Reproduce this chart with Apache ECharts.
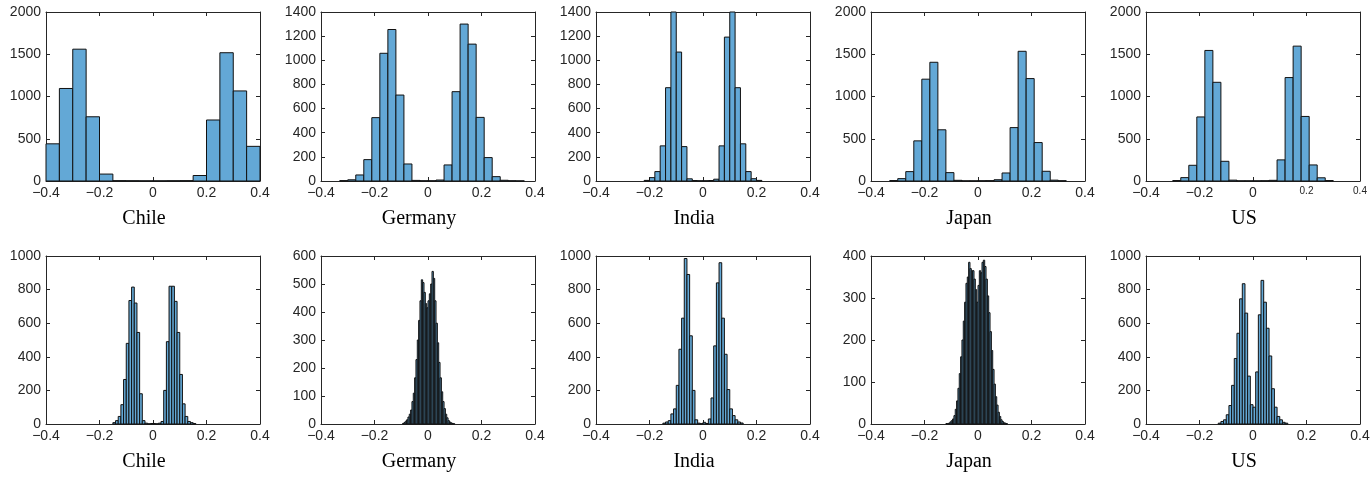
<!DOCTYPE html>
<html>
<head>
<meta charset="utf-8">
<script src="https://cdn.jsdelivr.net/npm/echarts/dist/echarts.min.js"></script>
<style>
  html, body { margin: 0; padding: 0; background: #fff; }
  #chart { width: 1372px; height: 477px; }
</style>
</head>
<body>
<div id="chart"></div>
<script>
// histogram counts (one value per bin)
var chileTopCounts = [440, 1095, 1560, 760, 82, 4, 3, 2, 2, 3, 4, 65, 722, 1518, 1066, 410];
var germanyTopCounts = [3, 10, 50, 177, 525, 1058, 1255, 712, 141, 5, 2, 2, 8, 133, 740, 1300, 1134, 527, 194, 36, 6, 2, 1];
var indiaTopCounts = [5, 28, 78, 291, 773, 1520, 1068, 285, 18, 4, 2, 2, 4, 15, 291, 1192, 1510, 773, 308, 78, 19, 5];
var japanTopCounts = [5, 28, 111, 475, 1205, 1405, 606, 99, 8, 2, 2, 3, 4, 15, 95, 632, 1535, 1212, 455, 115, 10, 3];
var usTopCounts = [5, 40, 186, 758, 1545, 1168, 233, 10, 2, 2, 2, 3, 8, 250, 1224, 1596, 764, 190, 38, 5];

var chileBottomCounts = [8, 20, 45, 115, 265, 480, 735, 815, 720, 545, 180, 20, 5, 1, 3, 3, 1, 5, 15, 200, 490, 820, 820, 730, 545, 295, 120, 45, 15, 8, 3];
var germanyBottomCounts = [2, 5, 10, 15, 25, 35, 50, 80, 110, 165, 230, 300, 370, 440, 515, 505, 470, 430, 415, 440, 465, 500, 545, 520, 440, 360, 290, 220, 165, 115, 80, 55, 35, 22, 12, 7, 4, 2, 1];
var indiaBottomCounts = [5, 12, 20, 60, 90, 230, 445, 630, 985, 890, 525, 200, 25, 5, 2, 10, 3, 30, 155, 465, 840, 960, 630, 415, 205, 90, 50, 25, 12, 6];
var japanBottomCounts = [1, 1, 2, 5, 8, 12, 20, 35, 55, 85, 120, 160, 200, 245, 290, 335, 350, 385, 370, 365, 365, 345, 320, 290, 330, 365, 360, 385, 390, 375, 345, 305, 265, 220, 175, 130, 95, 65, 45, 28, 18, 10, 6, 3, 2, 1];
var usBottomCounts = [5, 15, 25, 55, 110, 230, 390, 540, 745, 835, 660, 285, 115, 100, 310, 650, 855, 725, 570, 405, 210, 100, 45, 25, 10, 5];

// first bin edge and bin width of each histogram
var binStarts = [-0.4, -0.33, -0.22, -0.33, -0.30, -0.15, -0.095, -0.15, -0.12, -0.13];
var binWidths = [0.05, 0.03, 0.02, 0.03, 0.03, 0.01, 0.005, 0.01, 0.005, 0.01];

var countryNames = ['Chile', 'Germany', 'India', 'Japan', 'US', 'Chile', 'Germany', 'India', 'Japan', 'US'];
var yMaxes = [2000, 1400, 1400, 2000, 2000, 1000, 600, 1000, 400, 1000];
var ySteps = [500, 200, 200, 500, 500, 200, 100, 200, 100, 200];

var allCounts = [chileTopCounts, germanyTopCounts, indiaTopCounts, japanTopCounts, usTopCounts,
  chileBottomCounts, germanyBottomCounts, indiaBottomCounts, japanBottomCounts, usBottomCounts];

(function () {
  var myChart = echarts.init(document.getElementById('chart'));

  var colLeft = [46, 321, 596, 871, 1146];
  var rowTop = [12, 256];
  var rowHeight = [169, 168];
  var plotWidth = 214;
  var axisColor = '#262626';
  var sansFont = 'Liberation Sans, Arial, Helvetica, sans-serif';
  var serifFont = 'Liberation Serif, Times New Roman, serif';

  // matlab style tick text: real minus sign, no thousands separator
  function tickText(v) {
    if (Math.abs(v) < 1e-9) return '0';
    var s = String(Math.round(Math.abs(v) * 10) / 10);
    return v < 0 ? '\u2212' + s : s;
  }

  function renderBin(params, api) {
    var p0 = api.coord([api.value(0), api.value(2)]);
    var p1 = api.coord([api.value(1), 0]);
    var cs = params.coordSys;
    var rect = echarts.graphic.clipRectByRect(
      { x: p0[0], y: p0[1], width: p1[0] - p0[0], height: p1[1] - p0[1] },
      { x: cs.x, y: cs.y, width: cs.width, height: cs.height }
    );
    if (!rect) return;
    return {
      type: 'rect',
      shape: rect,
      style: { fill: '#63a8d6', stroke: '#111', lineWidth: 1 }
    };
  }

  var grids = [], xAxes = [], yAxes = [], series = [], graphics = [];

  allCounts.forEach(function (counts, i) {
    var row = Math.floor(i / 5), col = i % 5;
    var smallRight = i === 4; // the top US panel has smaller 0.2 / 0.4 labels
    grids.push({
      left: colLeft[col], top: rowTop[row], width: plotWidth, height: rowHeight[row],
      containLabel: false, outerBoundsMode: 'none', show: false
    });

    var line = { show: true, onZero: false, lineStyle: { color: axisColor, width: 1 } };
    var tick = { show: true, inside: true, length: 4, lineStyle: { color: axisColor, width: 1 } };

    xAxes.push({
      type: 'value', gridIndex: i, position: 'bottom',
      min: -0.4, max: 0.4, interval: 0.2,
      axisLine: line, axisTick: tick, splitLine: { show: false },
      axisLabel: {
        show: true, margin: 5, color: axisColor, fontFamily: sansFont, fontSize: 14,
        showMinLabel: true, showMaxLabel: true, hideOverlap: false,
        formatter: function (v) {
          var t = tickText(v);
          return smallRight && v > 0.1 ? '{s|' + t + '}' : t;
        },
        rich: { s: { fontSize: 10, fontFamily: sansFont, color: axisColor } }
      }
    });
    xAxes.push({
      type: 'value', gridIndex: i, position: 'top',
      min: -0.4, max: 0.4, interval: 0.2,
      axisLine: line, axisTick: tick, splitLine: { show: false },
      axisLabel: { show: false }
    });
    yAxes.push({
      type: 'value', gridIndex: i, position: 'left',
      min: 0, max: yMaxes[i], interval: ySteps[i],
      axisLine: line, axisTick: tick, splitLine: { show: false },
      axisLabel: {
        show: true, margin: 5, color: axisColor, fontFamily: sansFont, fontSize: 14,
        showMinLabel: true, showMaxLabel: true, hideOverlap: false,
        formatter: function (v) { return String(v); }
      }
    });
    yAxes.push({
      type: 'value', gridIndex: i, position: 'right',
      min: 0, max: yMaxes[i], interval: ySteps[i],
      axisLine: line, axisTick: tick, splitLine: { show: false },
      axisLabel: { show: false }
    });

    var bins = counts.map(function (c, k) {
      var a = Math.round((binStarts[i] + k * binWidths[i]) * 1e6) / 1e6;
      var b = Math.round((binStarts[i] + (k + 1) * binWidths[i]) * 1e6) / 1e6;
      return [a, b, c];
    });
    series.push({
      type: 'custom', name: countryNames[i],
      xAxisIndex: 2 * i, yAxisIndex: 2 * i,
      renderItem: renderBin,
      encode: { x: [0, 1], y: 2 },
      data: bins,
      silent: true
    });

    graphics.push({
      type: 'text',
      x: colLeft[col] + plotWidth / 2 - 9,
      y: row === 0 ? 219 : 462,
      style: {
        text: countryNames[i], fill: '#000',
        font: '20px ' + serifFont, align: 'center', verticalAlign: 'middle'
      }
    });
  });

  var option = {
    animation: false,
    backgroundColor: '#fff',
    grid: grids,
    xAxis: xAxes,
    yAxis: yAxes,
    series: series,
    graphic: graphics
  };
  myChart.setOption(option);
})();
</script>
</body>
</html>
